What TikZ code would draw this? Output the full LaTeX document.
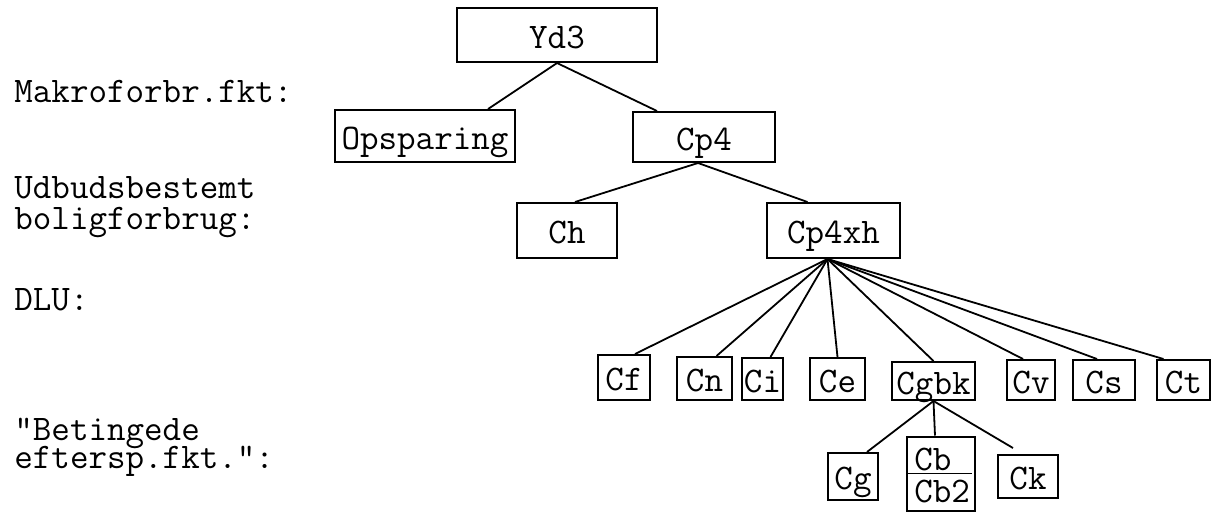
\documentclass[tikz,border=0pt]{standalone}
\begin{document}
\begin{tikzpicture}[x=0.5pt,y=-0.5pt,
  tt/.style={font=\ttfamily\fontsize{18}{16}\selectfont},
  bx/.style={tt, draw, line width=1pt, inner sep=0pt, text height=15pt, text depth=2pt},
  lbl/.style={tt, inner sep=0pt, anchor=base west, align=left},
  conn/.style={line width=0.9pt}]
\useasboundingbox (0,0) rectangle (1223,511);
% boxes
\node[bx, minimum width=100pt, minimum height=27pt] (yd3) at (557,35) {Yd3};
\node[bx, minimum width=90pt, minimum height=26pt] (ops) at (425,136) {Opsparing};
\node[bx, minimum width=71pt, minimum height=25pt] (cp4) at (704,137) {Cp4};
\node[bx, minimum width=50pt, minimum height=27.5pt] (ch) at (567,230.5) {Ch};
\node[bx, minimum width=66.5pt, minimum height=27.5pt] (cpxh) at (833.5,230.5) {Cp4xh};
\node[bx, minimum width=26pt, minimum height=22.5pt] (cf) at (624,377.5) {Cf};
\node[bx, minimum width=27.5pt, minimum height=21.5pt] (cn) at (704.5,378.5) {Cn};
\node[bx, minimum width=20.5pt, minimum height=21pt] (ci) at (762.5,379) {Ci};
\node[bx, minimum width=27.5pt, minimum height=21pt] (ce) at (837.5,379) {Ce};
\node[bx, minimum width=41.5pt, minimum height=19pt] (cgbk) at (933.5,381) {Cgbk};
\node[bx, minimum width=24pt, minimum height=20pt] (cv) at (1031,380) {Cv};
\node[bx, minimum width=31pt, minimum height=20pt] (cs) at (1104,380) {Cs};
\node[bx, minimum width=26.5pt, minimum height=20pt] (ct) at (1183.5,380) {Ct};
\node[bx, minimum width=25pt, minimum height=23.5pt] (cg) at (853,476.5) {Cg};
\node[bx, minimum width=34pt, minimum height=37pt] (cb) at (941,473.5) {};
\node[lbl] (cbt) at (914,502) {Cb\\[0pt]Cb2};
\node[bx, minimum width=30pt, minimum height=21.5pt] (ck) at (1028,476.5) {Ck};
\draw[line width=0.8pt] (cb.west) -- ([xshift=-2pt]cb.east);
% connectors
\draw[conn] (yd3.south) -- ([xshift=31.5pt]ops.north);
\draw[conn] (yd3.south) -- ([xshift=-23.5pt]cp4.north);
\draw[conn] ([xshift=-3pt]cp4.south) -- ([xshift=4pt]ch.north);
\draw[conn] ([xshift=-3pt]cp4.south) -- ([xshift=-13pt]cpxh.north);
\coordinate (hub) at ([xshift=-3pt]cpxh.south);
\foreach \n/\s in {cf/5.5pt, cn/6pt, ci/4pt, ce/0pt, cgbk/0pt, cv/-4pt, cs/-3.5pt, ct/-10pt}
  \draw[conn] (hub) -- ([xshift=\s]\n.north);
\draw[conn] (cgbk.south) -- ([xshift=7pt]cg.north);
\draw[conn] (cgbk.south) -- ([xshift=-3pt]cb.north);
\draw[conn] (cgbk.south) -- ([xshift=-7.5pt,yshift=3pt]ck.north);
% left labels
\node[lbl] (l1) at (14,102) {Makroforbr.fkt:};
\node[lbl] (l2) at (14,229) {Udbudsbestemt\\[-0.5pt]boligforbrug:};
\node[lbl] (l3) at (14,310) {DLU:};
\node[lbl] (l4) at (14,468) {"Betingede\\[-2pt]eftersp.fkt.":};
\end{tikzpicture}
\end{document}
